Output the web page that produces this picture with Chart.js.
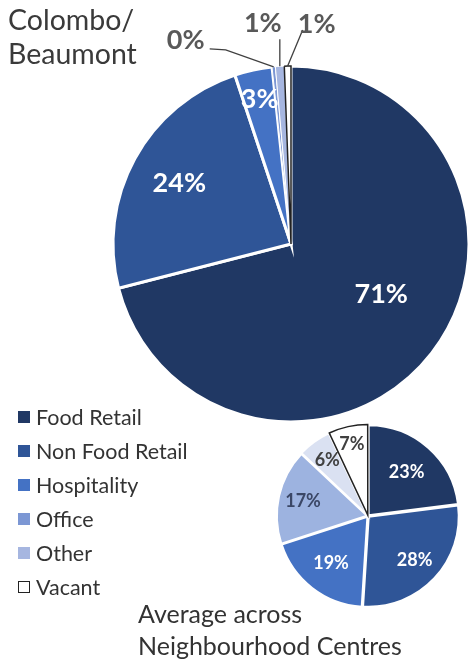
<!DOCTYPE html>
<html>
<head>
<meta charset="utf-8">
<script src="https://cdn.jsdelivr.net/npm/chart.js@4.4.1/dist/chart.umd.min.js"></script>
<style>
  html, body { margin:0; padding:0; background:#fff; }
  #wrap { position:relative; width:469px; height:666px; overflow:hidden; font-family: Lato, "Open Sans", sans-serif; color:#333; }
  canvas { position:absolute; left:0; top:0; }
  #t1 { position:absolute; left:8px; top:2px; font-size:28.5px; line-height:34px; color:#3a3a3a; }
  #t2 { position:absolute; left:138px; top:597px; font-size:25px; line-height:32px; color:#333; }
  #legend { position:absolute; left:18px; top:400px; font-size:21.5px; }
  .row { height:34px; display:flex; align-items:center; }
  .sw { width:12px; height:12px; margin-right:6px; box-sizing:border-box; }
</style>
</head>
<body>
<div id="wrap">
  <canvas id="big" width="469" height="666"></canvas>
  <canvas id="small" width="469" height="666"></canvas>
  <div id="t1">Colombo/<br>Beaumont</div>
  <div id="t2">Average across<br>Neighbourhood Centres</div>
  <div id="legend"></div>
</div>
<script>
// ---- data ----
const categories = ['Food Retail', 'Non Food Retail', 'Hospitality', 'Office', 'Other', 'Vacant'];
const colomboValues = [71.0, 23.9, 3.4, 0.3, 0.8, 0.6];
const averageValues = [23, 28, 19, 17, 6, 7];

// ---- styles ----
const bigColors   = ['#203864', '#2F5597', '#4472C4', '#7C97D4', '#A6B6E0', '#FFFFFF'];
const smallColors = ['#203864', '#2F5597', '#4472C4', '#9DB3E0', '#DAE1F2', '#FFFFFF'];
const legendColors = ['#203864', '#2F5597', '#4472C4', '#7C97D4', '#A6B6E0', '#FFFFFF'];

const pct = v => Math.round(v) + '%';

// label plugin
const sliceLabels = {
  id: 'sliceLabels',
  afterDatasetsDraw(chart, args, opts) {
    const ctx = chart.ctx;
    const meta = chart.getDatasetMeta(0);
    const data = chart.data.datasets[0].data;
    ctx.save();
    meta.data.forEach((arc, i) => {
      const p = arc.getProps(['x', 'y', 'startAngle', 'endAngle', 'outerRadius'], true);
      const inside = opts.inside && opts.inside[i];
      const outside = opts.outside && opts.outside[i];
      if (inside) {
        const frac = inside.frac == null ? 0.5 : inside.frac;
        const a = p.startAngle + (p.endAngle - p.startAngle) * frac;
        const r = p.outerRadius * inside.r;
        ctx.font = opts.font;
        ctx.fillStyle = inside.color;
        ctx.textAlign = 'center';
        ctx.textBaseline = 'middle';
        ctx.fillText(pct(data[i]), p.x + Math.cos(a) * r, p.y + Math.sin(a) * r);
      }
      if (outside) {
        const a = (p.startAngle + p.endAngle) / 2;
        const ax = p.x + Math.cos(a) * p.outerRadius;
        const ay = p.y + Math.sin(a) * p.outerRadius;
        ctx.strokeStyle = opts.lineColor;
        ctx.lineWidth = 1.3;
        ctx.beginPath();
        ctx.moveTo(ax, ay);
        outside.path.forEach(pt => ctx.lineTo(ax + pt[0], ay + pt[1]));
        ctx.stroke();
        ctx.font = opts.font;
        ctx.fillStyle = opts.outsideColor;
        ctx.textAlign = outside.align || 'center';
        ctx.textBaseline = 'middle';
        ctx.fillText(pct(data[i]), ax + outside.label[0], ay + outside.label[1]);
      }
    });
    ctx.restore();
  }
};

// Big pie: center (291,244), radius 178
new Chart(document.getElementById('big'), {
  type: 'pie',
  data: {
    labels: categories,
    datasets: [{
      data: colomboValues,
      backgroundColor: bigColors,
      borderColor: ['#fff', '#fff', '#fff', '#fff', '#fff', '#222'],
      borderWidth: [3, 3, 3, 1, 1, 1.5],
      borderJoinStyle: 'miter'
    }]
  },
  options: {
    responsive: false,
    animation: false,
    radius: 178,
    layout: { padding: { left: 113, right: 0, top: 66, bottom: 244 } },
    plugins: {
      legend: { display: false },
      tooltip: { enabled: false },
      sliceLabels: {
        font: 'bold 27px Lato, "Open Sans", sans-serif',
        lineColor: '#404040',
        outsideColor: '#595959',
        inside: {
          0: { r: 0.58, frac: 0.466, color: '#fff' },
          1: { r: 0.715, color: '#fff' },
          2: { r: 0.83, color: '#fff' }
        },
        outside: {
          3: { path: [[-48, -17], [-64, -18]], label: [-88, -27] },
          4: { path: [[0, -27]], label: [-17, -43] },
          5: { path: [[15, -36]], label: [29, -42] }
        }
      }
    }
  },
  plugins: [sliceLabels]
});

// Small pie: center (370,518)
new Chart(document.getElementById('small'), {
  type: 'pie',
  data: {
    labels: categories,
    datasets: [{
      data: averageValues,
      backgroundColor: smallColors,
      borderColor: ['#fff', '#fff', '#fff', '#fff', '#fff', '#222'],
      borderWidth: [2, 2, 2, 2, 2, 1.5],
      borderJoinStyle: 'miter',
      offset: 4
    }]
  },
  options: {
    responsive: false,
    animation: false,
    radius: 90,
    layout: { padding: { left: 276, right: 9, top: 424, bottom: 58 } },
    plugins: {
      legend: { display: false },
      tooltip: { enabled: false },
      sliceLabels: {
        font: 'bold 18px Lato, "Open Sans", sans-serif',
        inside: {
          0: { r: 0.65, color: '#fff' },
          1: { r: 0.71, color: '#fff' },
          2: { r: 0.67, color: '#fff' },
          3: { r: 0.74, color: '#3B4766' },
          4: { r: 0.77, color: '#404040' },
          5: { r: 0.82, color: '#404040' }
        }
      }
    }
  },
  plugins: [sliceLabels]
});

// legend
const lg = document.getElementById('legend');
categories.forEach((c, i) => {
  const row = document.createElement('div');
  row.className = 'row';
  const sw = document.createElement('div');
  sw.className = 'sw';
  sw.style.background = legendColors[i];
  if (c === 'Vacant') sw.style.border = '1.5px solid #222';
  const tx = document.createElement('span');
  tx.textContent = c;
  row.appendChild(sw);
  row.appendChild(tx);
  lg.appendChild(row);
});
</script>
</body>
</html>
